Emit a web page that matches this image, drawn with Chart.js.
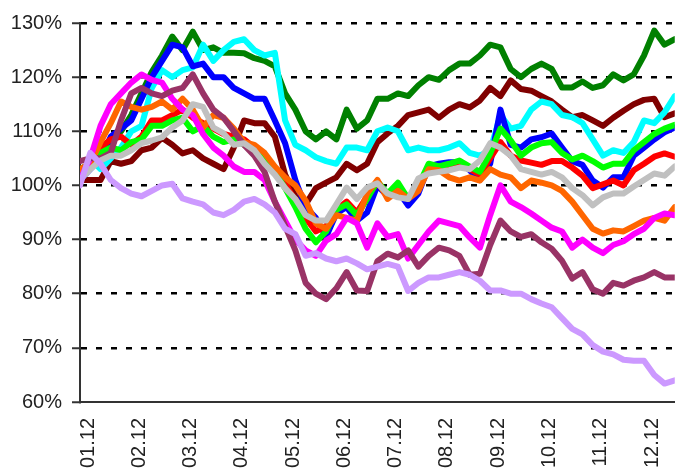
<!DOCTYPE html>
<html>
<head>
<meta charset="utf-8">
<script src="https://cdn.jsdelivr.net/npm/chart.js@4"></script>
<style>
  html, body { margin: 0; padding: 0; background: #fff; }
  #wrap { width: 676px; height: 471px; }
</style>
</head>
<body>
<div id="wrap"><canvas id="c" width="676" height="471"></canvas></div>
<script>
// Month tick labels (x axis) and y tick values
const monthLabels = ["01.12","02.12","03.12","04.12","05.12","06.12","07.12","08.12","09.12","10.12","11.12","12.12"];
const yTicks = [60, 70, 80, 90, 100, 110, 120, 130];
const samplesPerMonth = 5; // readings taken every 1/5 month

// Series values (index, start = 100%)
const lavender = [100,106,104,101,99.5,98.5,98,99,100,100.3,97.6,97,96.5,95,94.5,95.5,97,97.5,96.5,95,92,91,87,87.5,86.5,86,86.5,85.6,84.5,85,85.5,85,80.5,82,83,83,83.5,84,83.5,82.4,80.6,80.6,80,80,79,78.2,77.5,75.5,73.5,72.5,70.5,69.3,68.8,67.8,67.6,67.6,65,63.4,64];
const gray = [101,103,104.6,105.5,105.5,106.5,107.8,108.3,108.9,110.7,112,115,114.5,110.7,109.6,107.5,107.8,106.5,104,102,99.5,97.5,94.5,93.5,93.5,96.5,99.6,97.5,99.6,100.4,98.5,97.8,97.5,101.3,102.2,102.5,102.8,103.3,103,104.6,107.8,107,105.5,103,102.5,102,102.5,101.5,99.5,98.2,96.3,97.8,98.5,98.5,99.8,101,102.2,101.8,103.5];
const plum = [104.5,105,105,106,112,117,118,117,116.5,117.5,118,120.5,117,114,112.5,110,107.5,105.5,102.5,97,92.5,88,82,80,79,81,84,80.6,80.5,86,87.4,86.7,88,85,87,88.5,88,87,83.5,83.7,89,93.5,91.5,90.5,91,89.5,88.3,86.1,82.8,84,80.8,80,82,81.5,82.4,83,84,83,83];
const magenta = [101,105,111,115,117,119,120.5,119.5,119,116,114,113,109.5,107,105.5,103.5,102.5,102.5,101,97,93.5,90,88,87,89.8,91,94,93,88.5,93,90.5,91,86.5,89,91.5,93.5,93,92.5,90.4,88.5,94.5,100,97,96,94.8,93.5,92.2,91.5,88.5,90,88.5,87.5,89,89.7,91,92,94,94.8,94.5];
const orange = [103,104,108,111.5,115.5,114.5,114,114.5,115.5,114,116,114,110.7,113,112.5,110.5,108,107.5,106,103.5,101.5,100,97.2,93,92,94.5,94,93.5,98.5,101,97.5,99,97.5,99,103,102.8,101.5,100.9,101.5,100.9,103,102,101.5,99.5,100.9,100.5,100,99,97,94.5,92,91.1,91.7,91.5,92.5,93.5,94,93.5,96];
const lime = [102,104,106,107,106.5,108,108.5,111,111,112,112.5,110,111,109,108,108.5,107.5,106.5,104.5,102.5,99.5,96,92,89.5,91.5,95.5,96.5,94.5,97.5,100.8,98.5,100.5,97.5,100,104,103.5,104,104.6,103.5,102.5,105.9,110.5,108.3,105.5,107,107.8,108,106,104.8,105.5,104.5,103.3,104,104,106.5,108,109.5,110.5,111.2];
const red = [102,104,107,108.5,109,107.5,109,112,112,113,114,112.5,111.5,110.5,109.5,109,108.5,107,105,103,100.5,97,94,91.5,92.5,95.5,97,95,98,100.5,98,100,97.5,99.5,103.5,103,103.5,104,103,102,105,108,105.5,104.6,104.2,103.8,104.5,104.5,103.3,101.8,99.5,100.2,100.9,100,102.8,104,105.3,105.9,105.3];
const blue = [101,103,105,109,110.5,112,116,120,123,126,125.5,122,122.5,120,120,118,117,116,116,112,107.8,101,96,94,90.5,94.8,96,93.5,95,100,98,99,96.3,98.5,103.5,104,104.3,104.3,102.8,101,104,114,107.5,107,108.5,108.9,109.6,107,104.5,103.8,100.9,99.6,101.5,101.5,105.5,107,108.5,109.8,110.7];
const cyan = [101,105,103,105,107,110,111,118,121.3,120,121.3,121.8,126,123,125,126.5,127,125,124,124.5,112,107.5,106.5,105.2,104.5,104,107,107,106.5,110,110.7,110,106.5,107,106.5,106.5,107,107.8,106,105.5,106.5,113,110.5,111,114,115.5,115,113,112.6,111.5,108.5,105.5,106.5,106,108,112,111.5,113.5,116.5];
const maroon = [101,101,101,104.5,104,104.5,106.5,107,108.8,107.5,105.9,106.5,105,104,103,107,112,111.5,111.5,109,102,98,96.5,99.5,100.5,101.5,104,102.8,104,108,109.6,111,113,113.5,114,112.5,114,115,114.4,115.7,118,116.5,119.4,117.8,117.5,116.5,115.5,114,112.6,113,112,111,112.5,113.8,115,115.8,116,112.6,113.3];
const green = [103,104,106,108,110,113,117,121,124,127.5,125,128.4,125,125.5,124.5,124.5,124.4,123.5,123,122,117,114,110,108.5,110,108.5,114,110.5,112,116,116,117,116.5,118.5,120,119.5,121.3,122.5,122.5,124,126,125.5,121.5,120,121.5,122.5,121.5,118.1,118.1,119.2,118,118.5,120.5,119.4,120.5,124,128.6,126,127];

// first listed = drawn on top
const seriesList = [
  { name: "S11", values: lavender, color: "#CC99FF" },
  { name: "S10", values: gray,     color: "#C0C0C0" },
  { name: "S9",  values: plum,     color: "#993366" },
  { name: "S8",  values: magenta,  color: "#FF00FF" },
  { name: "S7",  values: orange,   color: "#FF6600" },
  { name: "S6",  values: lime,     color: "#00FF00" },
  { name: "S5",  values: red,      color: "#FF0000" },
  { name: "S4",  values: blue,     color: "#0000FF" },
  { name: "S3",  values: cyan,     color: "#00FFFF" },
  { name: "S2",  values: maroon,   color: "#800000" },
  { name: "S1",  values: green,    color: "#008000" }
];

const lastX = (lavender.length - 1) / samplesPerMonth;

const datasets = seriesList.map(s => ({
  label: s.name,
  data: s.values.map((v, i) => ({ x: i / samplesPerMonth, y: v })),
  borderColor: s.color,
  backgroundColor: s.color,
  borderWidth: 6,
  pointRadius: 0,
  tension: 0,
  fill: false,
  borderJoinStyle: "round",
  borderCapStyle: "round"
}));

const FONT = "'Liberation Sans', Arial, sans-serif";

new Chart(document.getElementById("c"), {
  type: "line",
  data: { datasets },
  options: {
    responsive: false,
    animation: false,
    devicePixelRatio: 1,
    layout: { padding: { top: 23, right: 0, left: 0, bottom: 0 } },
    plugins: { legend: { display: false }, tooltip: { enabled: false } },
    scales: {
      x: {
        type: "linear",
        min: 0,
        max: lastX,
        afterBuildTicks: sc => { sc.ticks = monthLabels.map((_, i) => ({ value: i })); },
        afterFit: sc => { sc.height = 69; },
        grid: { display: false },
        border: { display: true, color: "#333", width: 2 },
        ticks: {
          autoSkip: false,
          minRotation: 90,
          maxRotation: 90,
          padding: 8,
          labelOffset: 8,
          color: "#222",
          font: { family: FONT, size: 20 },
          callback: v => monthLabels[v] ?? ""
        }
      },
      y: {
        type: "linear",
        min: 60,
        max: 130,
        afterBuildTicks: sc => { sc.ticks = yTicks.map(v => ({ value: v })); },
        afterFit: sc => { sc.width = 80; },
        grid: {
          color: ctx => (ctx.tick && ctx.tick.value === 60) ? "rgba(0,0,0,0)" : "#000",
          lineWidth: 2.5,
          drawTicks: true,
          tickLength: 8,
          tickColor: "#333",
          tickWidth: 2,
          tickBorderDash: []
        },
        border: { display: true, color: "#333", width: 2, dash: [6, 9] },
        ticks: {
          padding: 10,
          color: "#222",
          font: { family: FONT, size: 20 },
          callback: v => v + "%"
        }
      }
    }
  }
});
</script>
</body>
</html>
